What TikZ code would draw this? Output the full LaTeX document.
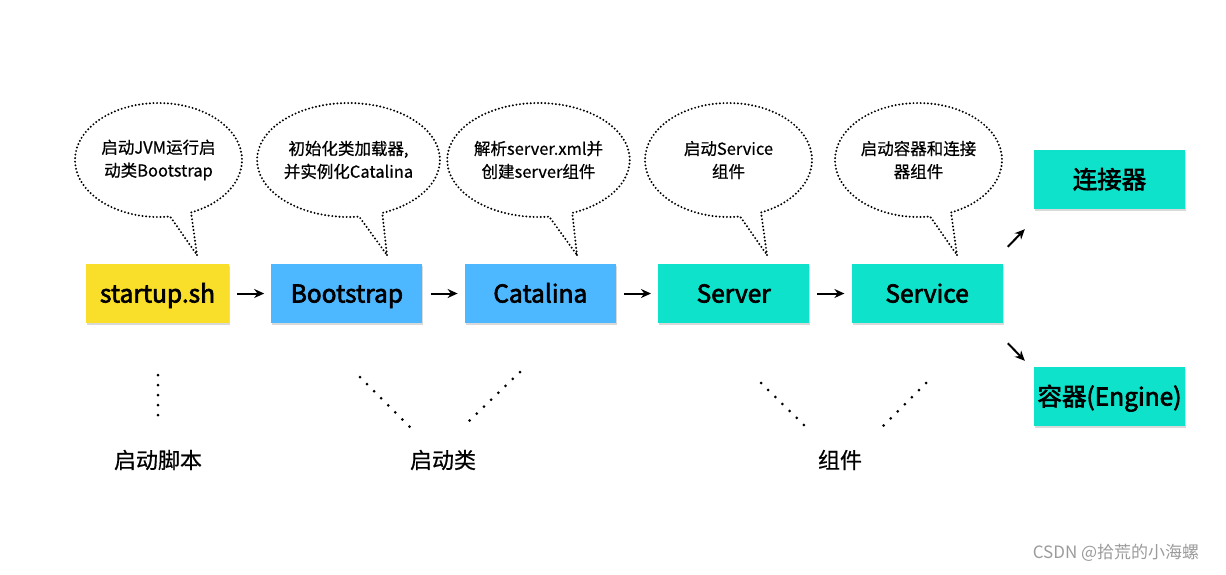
\documentclass[tikz,border=0pt]{standalone}
\usepackage{fontspec}
\setmainfont{Noto Sans CJK SC}
\newfontfamily\boxfont{Noto Sans CJK SC}[FakeBold=2.6]
\newfontfamily\midfont{Noto Sans CJK SC}[FakeBold=0.6]
\usepackage{tikz}
\usetikzlibrary{positioning,shapes.callouts,arrows.meta,shadows}

\definecolor{startyellow}{RGB}{249,222,42}
\definecolor{classblue}{RGB}{77,184,255}
\definecolor{partteal}{RGB}{14,226,202}
\definecolor{markgray}{RGB}{155,155,155}

\begin{document}
\begin{tikzpicture}
		[
		x = 1pt, y = -1pt,
		box/.style = {minimum width = 151pt, minimum height = 59pt, inner sep = 0pt,
			text height = 21pt, text depth = 3pt,
			font = \boxfont\fontsize{24.5}{28}\selectfont,
			drop shadow = {opacity = 0.3, shadow xshift = 1pt, shadow yshift = -2pt}},
		say/.style = {ellipse callout, draw, line width = 2.2pt, line cap = round,
			dash pattern = on 0pt off 3.6pt, minimum width = 167pt, minimum height = 114pt,
			inner sep = 0pt, align = center, font = \midfont\fontsize{16.5}{23}\selectfont},
		link/.style = {-{Stealth[length = 10pt, width = 9pt]}, line width = 2pt,
			shorten < = 8pt, shorten > = 7pt},
		dots/.style = {line width = 3pt, line cap = round, dash pattern = on 0pt off 10pt},
		group/.style = {font = \midfont\fontsize{22}{26}\selectfont}
		]
		
		\useasboundingbox (0,0) rectangle (1226,574);
		
		% main chain
		\node [box, fill = startyellow, minimum width = 143pt] (start) at (157.5,293.5) {startup.sh};
		\node [box, fill = classblue, right = 42pt of start] (boot) {Bootstrap};
		\node [box, fill = classblue, right = 42pt of boot] (cat) {Catalina};
		\node [box, fill = partteal, right = 42pt of cat] (server) {Server};
		\node [box, fill = partteal, right = 42pt of server] (service) {Service};
		\node [box, fill = partteal] (conn) at (1109.5,179.5) {连接器};
		\node [box, fill = partteal] (engine) at (1109.5,396.5) {容器(Engine)};
		
		\draw [link] (start) -- (boot);
		\draw [link] (boot) -- (cat);
		\draw [link] (cat) -- (server);
		\draw [link] (server) -- (service);
		\draw [link, shorten < = 0pt, shorten > = 0pt]
			([shift = {(5,-17)}]service.north east) -- ([shift = {(-9,20)}]conn.south west);
		\draw [link, shorten < = 0pt, shorten > = 0pt]
			([shift = {(5,20)}]service.south east) -- ([shift = {(-9,-6)}]engine.north west);
		
		% bubbles
		\node [say, callout absolute pointer = {(197,255)}] (sayStart) at (158.5,160)
			{启动JVM运行启\\动类Bootstrap};
		\node [say, callout absolute pointer = {(387,255)}] (sayBoot) at (348.5,160)
			{初始化类加载器,\\并实例化Catalina};
		\node [say, callout absolute pointer = {(577,255)}] (sayCat) at (538.5,160)
			{解析server.xml并\\创建server组件};
		\node [say, callout absolute pointer = {(767,255)}] (sayServer) at (728.5,160)
			{启动Service\\组件};
		\node [say, callout absolute pointer = {(957,255)}] (sayService) at (918.5,160)
			{启动容器和连接\\器组件};
		
		% groups
		\node [group] (grpScript) at (158,460) {启动脚本};
		\node [group] (grpClass) at (443,460) {启动类};
		\node [group] (grpPart) at (840,460) {组件};
		
		\draw [dots] (158,375) -- (158,425);
		\draw [dots] (360,377) -- (411,428);
		\draw [dots] (520,372) -- (468,422);
		\draw [dots] (761,383) -- (804,425);
		\draw [dots] (926,383) -- (883,426);
		
		\node [markgray, font = \fontsize{17}{20}\selectfont] (mark) at (1116,553) {CSDN @拾荒的小海螺};
		
\end{tikzpicture}
\end{document}
